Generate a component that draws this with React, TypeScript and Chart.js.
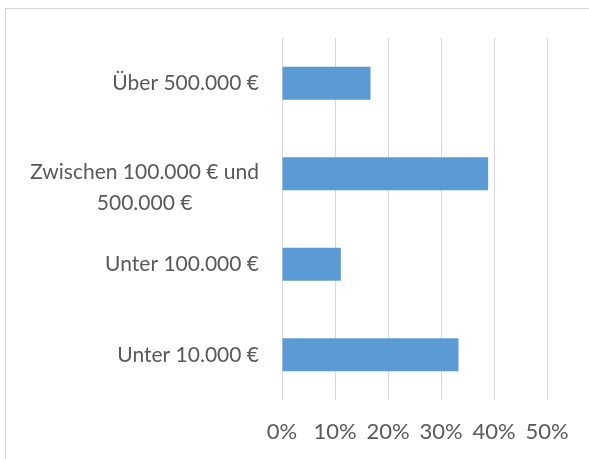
import React, { useEffect, useRef } from 'react';
import { Chart, registerables } from 'chart.js';

Chart.register(...registerables);

const categories: string[][] = [
  ['Über 500.000 €'],
  ['Zwischen 100.000 € und', '500.000 €'],
  ['Unter 100.000 €'],
  ['Unter 10.000 €'],
];
const values = [16.7, 38.9, 11.1, 33.3];
const xMin = 0;
const xMax = 50;
const xStep = 10;

const TEXT = '#595959';
const GRID = '#d9d9d9';
const BAR = '#5b9bd5';
const FONT = 'Lato, sans-serif';

const yLabelPlugin = {
  id: 'yLabels',
  afterDraw(chart: any) {
    const ctx = chart.ctx;
    const y = chart.scales.y;
    ctx.save();
    ctx.font = `21px ${FONT}`;
    ctx.fillStyle = TEXT;
    ctx.textBaseline = 'middle';
    ctx.textAlign = 'center';
    const right = chart.chartArea.left - 23;
    categories.forEach((lines, i) => {
      const cy = y.getPixelForValue(i);
      const w = Math.max(...lines.map((l) => ctx.measureText(l).width));
      const cx = right - w / 2;
      const off = lines.length > 1 ? -2 : 0;
      lines.forEach((l, j) => ctx.fillText(l, cx, cy + off + j * 31));
    });
    ctx.restore();
  },
};

export default function App() {
  const ref = useRef<HTMLCanvasElement>(null);
  useEffect(() => {
    if (!ref.current) return;
    const chart = new Chart(ref.current, {
      type: 'bar',
      data: {
        labels: categories.map((c) => c.join(' ')),
        datasets: [
          {
            data: values,
            backgroundColor: BAR,
            borderWidth: 0,
            categoryPercentage: 1,
            barPercentage: 0.365,
          },
        ],
      },
      options: {
        indexAxis: 'y',
        responsive: false,
        animation: false,
        layout: { padding: { left: 0, right: 42, top: 38, bottom: 0 } },
        plugins: { legend: { display: false }, tooltip: { enabled: false } },
        scales: {
          x: {
            min: xMin,
            max: xMax,
            grid: { color: GRID, lineWidth: 1, drawTicks: false },
            border: { display: false },
            ticks: {
              stepSize: xStep,
              padding: 19,
              color: TEXT,
              font: { family: FONT, size: 22 },
              callback: (v: any) => `${v}%`,
            },
            afterFit: (s: any) => {
              s.height = 59;
            },
          },
          y: {
            grid: { display: false },
            border: { display: false },
            ticks: { display: false },
            afterFit: (s: any) => {
              s.width = 282;
            },
          },
        },
      },
      plugins: [yLabelPlugin],
    });
    return () => chart.destroy();
  }, []);
  return (
    <>
      <div
        style={{
          position: 'absolute',
          left: 5,
          top: 8,
          width: 584,
          height: 451,
          boxSizing: 'border-box',
          borderTop: '1px solid #d4d4d4',
          borderLeft: '1px solid #d4d4d4',
        }}
      />
      <canvas
        ref={ref}
        width={589}
        height={459}
        style={{ position: 'absolute', left: 0, top: 0 }}
      />
    </>
  );
}
